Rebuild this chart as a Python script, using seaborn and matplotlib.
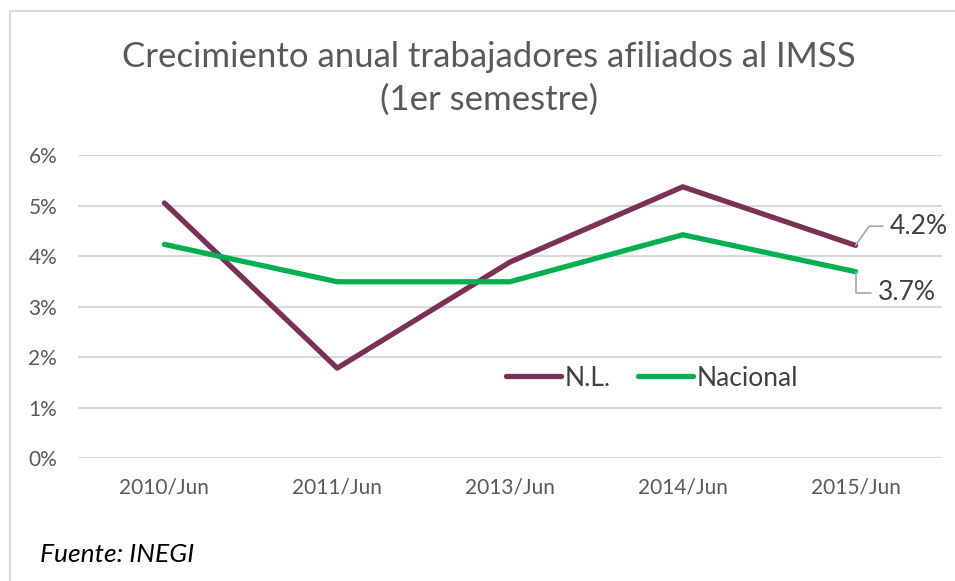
import matplotlib
matplotlib.use("Agg")
import matplotlib.pyplot as plt
import seaborn as sns
import pandas as pd
from matplotlib.ticker import FuncFormatter
from matplotlib.lines import Line2D

periods = ["2010/Jun", "2011/Jun", "2013/Jun", "2014/Jun", "2015/Jun"]
nl_values = [5.05, 1.78, 3.88, 5.37, 4.21]
nacional_values = [4.23, 3.49, 3.49, 4.42, 3.69]
series_names = ["N.L.", "Nacional"]
colors = ["#7B3155", "#00B050"]
yticks = [0, 1, 2, 3, 4, 5, 6]

df = pd.DataFrame({
    "periodo": periods * 2,
    "valor": nl_values + nacional_values,
    "serie": [series_names[0]] * len(periods) + [series_names[1]] * len(periods),
})

sns.set_theme(style="white")
plt.rcParams['font.family'] = ['Lato', 'DejaVu Sans']

fig = plt.figure(figsize=(9.55, 5.81), dpi=100)
ax = fig.add_axes([78/955, 1-458/581, (942-78)/955, (458-155)/581])

sns.lineplot(data=df, x="periodo", y="valor", hue="serie", palette=colors,
             linewidth=3.8, ax=ax, sort=False, legend=False)
for ln in ax.lines:
    ln.set_solid_capstyle("round")
    ln.set_zorder(3)

ax.set_xlim(-0.5, len(periods) - 0.5)
ax.set_ylim(0, 6)
ax.set_yticks(yticks)
ax.yaxis.set_major_formatter(FuncFormatter(lambda v, p: f"{int(v)}%"))
ax.grid(axis="y", color="#D9D9D9", linewidth=1.5)
ax.set_axisbelow(True)
for s in ax.spines.values():
    s.set_visible(False)
ax.tick_params(axis="both", length=0, labelsize=15, labelcolor="#595959")
ax.tick_params(axis="x", pad=14)
ax.tick_params(axis="y", pad=15)
ax.set_xlabel("")
ax.set_ylabel("")

# data labels with leader lines
last = len(periods) - 1
ax.annotate(f"{nl_values[-1]:.1f}%", xy=(last, nl_values[-1]), xytext=(last + 0.2, nl_values[-1] + 0.38),
            fontsize=19, color="#404040", va="center", ha="left",
            arrowprops=dict(arrowstyle="-", color="#A6A6A6", lw=1.2,
                            connectionstyle="angle,angleA=0,angleB=55,rad=0", shrinkA=3, shrinkB=0))
ax.annotate(f"{nacional_values[-1]:.1f}%", xy=(last, nacional_values[-1]), xytext=(last + 0.13, nacional_values[-1] - 0.42),
            fontsize=19, color="#404040", va="center", ha="left",
            arrowprops=dict(arrowstyle="-", color="#A6A6A6", lw=1.2,
                            connectionstyle="angle,angleA=0,angleB=90,rad=0", shrinkA=3, shrinkB=0))

handles = [Line2D([0], [0], color=c, lw=3.8, solid_capstyle="round") for c in colors]
leg = ax.legend(handles, series_names, loc="center", bbox_to_anchor=(652/955, 1-378/581),
                bbox_transform=fig.transFigure, ncol=2, frameon=False, fontsize=19,
                handlelength=2.1, handletextpad=0.15, columnspacing=1.0)
for t in leg.get_texts():
    t.set_color("#404040")

fig.text(489/955, 1-57/581, "Crecimiento anual trabajadores afiliados al IMSS",
         ha="center", va="center", fontsize=25, color="#595959")
fig.text(489/955, 1-100/581, "(1er semestre)",
         ha="center", va="center", fontsize=25, color="#595959")
fig.text(40/955, 1-555/581, "Fuente: INEGI", ha="left", va="center",
         fontsize=19, style="italic", color="black")

# outer frame lines (top and left)
fig.add_artist(Line2D([9.5/955, 1], [1-10.5/581, 1-10.5/581], transform=fig.transFigure,
                      color="#D9D9D9", lw=1.5))
fig.add_artist(Line2D([9.5/955, 9.5/955], [0, 1-10.5/581], transform=fig.transFigure,
                      color="#D9D9D9", lw=1.5))

fig.savefig("out.png", dpi=100, facecolor="white")
